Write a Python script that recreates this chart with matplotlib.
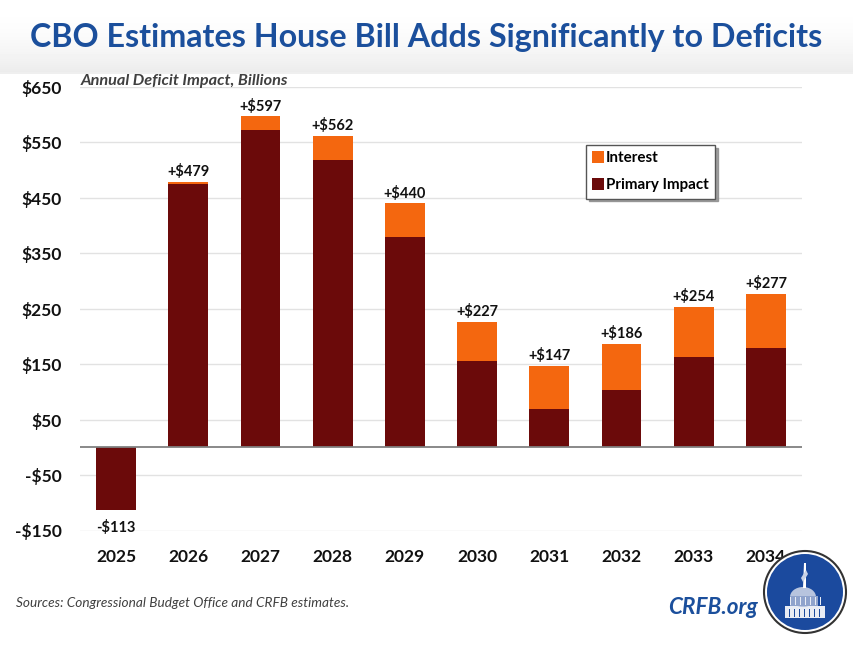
import numpy as np
import matplotlib
matplotlib.use("Agg")
from matplotlib import pyplot as plt
from matplotlib.patches import Circle, Polygon, Rectangle, Ellipse

plt.rcParams["font.family"] = ["Lato", "DejaVu Sans"]

years = ["2025", "2026", "2027", "2028", "2029", "2030", "2031", "2032", "2033", "2034"]
primary = [-113, 475, 572, 518, 379, 156, 70, 104, 163, 179]
interest = [0, 4, 25, 44, 61, 71, 77, 82, 91, 98]
totals = [-113, 479, 597, 562, 440, 227, 147, 186, 254, 277]
y_ticks = [-150, -50, 50, 150, 250, 350, 450, 550, 650]

W, H = 854, 646
DARK = "#6B0A0A"
ORANGE = "#F4670F"
BLUE = "#1B4F9C"

fig = plt.figure(figsize=(W / 100, H / 100), dpi=100)

# header band, fades to grey just above the plot
bg = fig.add_axes([0, 0, 1, 1], zorder=0)
bg.set_xlim(0, W)
bg.set_ylim(H, 0)
bg.axis("off")
grad = (1.0 - 0.075 * np.linspace(0, 1, 72) ** 2).reshape(-1, 1)
bg.imshow(grad, extent=[0, W, 72, 0], cmap="gray", vmin=0, vmax=1, aspect="auto")
bg.set_xlim(0, W)
bg.set_ylim(H, 0)
bg.add_patch(Rectangle((0, 72), W, 2, color="#EFEFEF", lw=0))

ax = fig.add_axes([80 / W, 1 - 530.5 / H, 722 / W, 443.5 / H], zorder=1)
ax.patch.set_alpha(0)
x = np.arange(len(years))
ax.bar(x, primary, width=0.55, color=DARK, zorder=3, label="Primary Impact")
ax.bar(x, interest, width=0.55, bottom=[max(p, 0) for p in primary], color=ORANGE,
       zorder=3, label="Interest")

ax.set_xlim(-0.5, 9.5)
ax.set_ylim(-150, 650)
ax.set_yticks(y_ticks)
ax.set_yticklabels([("-$%d" % -v) if v < 0 else ("$%d" % v) for v in y_ticks],
                   fontsize=12.5, fontweight="bold", color="#111111")
ax.yaxis.grid(True, color="#E2E2E2", lw=1)
ax.set_axisbelow(True)
ax.axhline(0, color="#808080", lw=1.3, zorder=4)
ax.tick_params(length=0, axis="y", pad=13)
ax.set_xticks(x)
ax.set_xticklabels(years, fontsize=12.5, fontweight="bold", color="#111111")
ax.tick_params(length=0, axis="x", pad=13)
for s in ax.spines.values():
    s.set_visible(False)

for xi, t in zip(x, totals):
    if t < 0:
        ax.annotate("-$%d" % -t, (xi, t), xytext=(0, -7), textcoords="offset points",
                    ha="center", va="top", fontsize=10.5, fontweight="bold", color="#111111")
    else:
        ax.annotate("+$%d" % t, (xi, t), xytext=(0, 2), textcoords="offset points",
                    ha="center", va="bottom", fontsize=10.5, fontweight="bold", color="#111111")

handles, labels = ax.get_legend_handles_labels()
leg = ax.legend(handles[::-1], labels[::-1], loc="upper left",
                bbox_to_anchor=((586 - 80) / 722, 1 - (145 - 87) / 443.5),
                frameon=True, fancybox=False, shadow={"color": "#888888", "alpha": 0.8},
                framealpha=1, edgecolor="#555555",
                handlelength=0.8, handleheight=0.8, handletextpad=0.1, labelspacing=0.85,
                borderaxespad=0, borderpad=0.42, prop={"weight": "bold", "size": 10.9})
leg.set_zorder(6)

fig.text(426 / W, 1 - 38 / H, "CBO Estimates House Bill Adds Significantly to Deficits", ha="center",
         va="center", fontsize=23.2, fontweight="bold", color=BLUE)
fig.text(81 / W, 1 - 81 / H, "Annual Deficit Impact, Billions", ha="left", va="center", fontsize=11.7,
         fontweight="bold", fontstyle="italic", color="#404040")
fig.text(16 / W, 1 - 603 / H, "Sources: Congressional Budget Office and CRFB estimates.", ha="left",
         va="center", fontsize=9.8, fontstyle="italic", color="#404040")
fig.text(712.5 / W, 1 - 607 / H, "CRFB.org", ha="center", va="center", fontsize=16.2, fontweight="bold",
         fontstyle="italic", color=BLUE)

# logo: capitol dome in a ringed circle
logo = fig.add_axes([0, 0, 1, 1], zorder=5)
logo.set_xlim(0, W)
logo.set_ylim(H, 0)
logo.axis("off")
logo.add_patch(Circle((805, 592), 41, fc="white", ec="#333333", lw=1.5))
logo.add_patch(Circle((805, 592), 38, fc="#1B4A9E", ec="none"))
logo.add_patch(Rectangle((785, 606), 40, 12, fc="#E8ECF4", ec="none"))
logo.add_patch(Ellipse((803, 597), 26, 20, fc="#B7C4DE", ec="none"))
logo.add_patch(Rectangle((790, 596), 28, 10, fc="#8FA3CC", ec="none"))
logo.add_patch(Polygon([(803, 588), (806, 588), (806, 563), (804, 563)], fc="white", ec="none"))
logo.add_patch(Polygon([(801, 578), (806, 570), (808, 574), (803, 582)], fc="#C9D3E6", ec="none"))
for px in range(789, 824, 5):
    logo.add_patch(Rectangle((px, 609), 1.5, 8, fc="#1B4A9E", ec="none"))
    logo.add_patch(Rectangle((px + 1, 597), 1.5, 8, fc="#E8ECF4", ec="none"))

fig.savefig("out.png", dpi=100)
